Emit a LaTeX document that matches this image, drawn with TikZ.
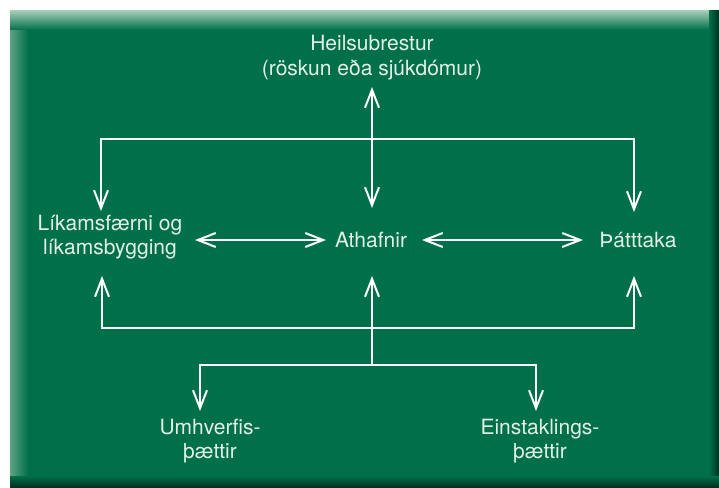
\documentclass[tikz,border=0pt]{standalone}
\usepackage{fontspec}
\setmainfont{TeX Gyre Heros}
\usetikzlibrary{arrows.meta}
\definecolor{bg}{HTML}{00704A}
\definecolor{bevel}{HTML}{A2CAB6}
\definecolor{bevelL}{HTML}{5FA284}
\definecolor{shadow}{HTML}{00301F}
\definecolor{txt}{HTML}{E4EFE8}
\begin{document}
\begin{tikzpicture}[x=1pt,y=-1pt,
  lbl/.style={text=txt, font=\fontsize{21}{24.5}\selectfont, align=center, inner sep=0pt},
  ln/.style={draw=white, line width=2pt},
  arr/.style={ln, -{Straight Barb[length=18pt,width=14pt]}},
  darr/.style={ln, {Straight Barb[length=18pt,width=14pt]}-{Straight Barb[length=18pt,width=14pt]}}]
\useasboundingbox (0,0) rectangle (719,487);
\fill[white] (0,0) rectangle (719,487);
\fill[bg] (10,11) rectangle (719,487);
\shade[left color=bevelL, right color=bg] (10,11) rectangle (28,487);
\shade[top color=bevel, bottom color=bg] (10,11) rectangle (719,30);
\shade[left color=bg, right color=shadow] (709,11) rectangle (719,487);
\shade[top color=bg, bottom color=shadow] (10,476) rectangle (719,487);

% nodes
\node[lbl] (heil) at (372,57.5) {Heilsubrestur\\(röskun eða sjúkdómur)};
\node[lbl] (lik) at (110,237) {Líkamsfærni og\\líkamsbygging};
\node[lbl] (ath) at (371,240) {Athafnir};
\node[lbl] (thatt) at (638,240) {Þátttaka};
\node[lbl] (umh) at (210,441) {Umhverfis-\\þættir};
\node[lbl] (einst) at (540,441) {Einstaklings-\\þættir};

% junctions and arrow ends
\coordinate (jt) at (372,139);
\coordinate (hin) at (372,87);
\coordinate (ain) at (372,208);
\coordinate (lin) at (101,211);
\coordinate (pin) at (634,212);
\coordinate (jb) at (372,328);
\coordinate (jm) at (372,365);
\coordinate (aup) at (372,276);
\coordinate (lup) at (102,276);
\coordinate (pup) at (634,276);
\coordinate (uin) at (200,411);
\coordinate (ein) at (536,411);
\coordinate (la) at (195,240);
\coordinate (lb) at (326,240);
\coordinate (ra) at (422,240);
\coordinate (rb) at (583,240);

\draw[arr] (jt) -- (hin);
\draw[arr] (jt) -- (ain);
\draw[arr] (jt) -| (lin);
\draw[arr] (jt) -| (pin);
\draw[arr] (jm) -- (aup);
\draw[arr] (jb) -| (lup);
\draw[arr] (jb) -| (pup);
\draw[arr] (jm) -| (uin);
\draw[arr] (jm) -| (ein);
\draw[darr] (la) -- (lb);
\draw[darr] (ra) -- (rb);
\end{tikzpicture}
\end{document}
